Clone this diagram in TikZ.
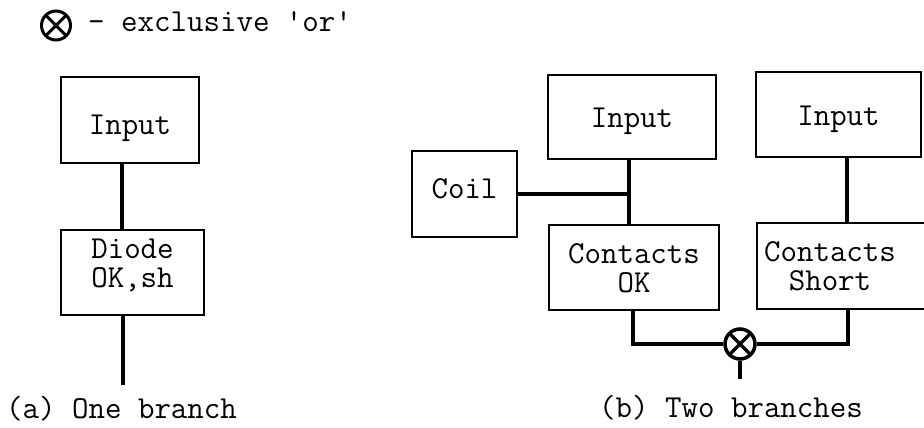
\documentclass[tikz,border=0pt]{standalone}
\usepackage{fontspec}
\usetikzlibrary{calc}
\tikzset{
  every node/.style={font=\ttfamily\fontsize{32}{29}\selectfont},
  blk/.style 2 args={draw, line width=2pt, inner sep=0pt, align=center,
    minimum width=#1, minimum height=#2},
  tb/.style 2 args={text height=#1, text depth=#2},
  wire/.style={line width=4.5pt},
  xorcross/.style={path picture={\draw
      (path picture bounding box.north west) -- (path picture bounding box.south east)
      (path picture bounding box.north east) -- (path picture bounding box.south west);}},
  xorbig/.style={circle, draw, line width=3.5pt, minimum size=30pt, inner sep=0pt, xorcross},
  lbl/.style={anchor=base west, inner sep=0pt}
}
\begin{document}
\begin{tikzpicture}[x=1pt,y=-1pt]
\useasboundingbox (0,0) rectangle (924,428);
\clip (0,0) rectangle (924,428);

% key: exclusive-or symbol and its meaning
\coordinate (key) at (56,25.5);
\draw[line width=3pt] (key) circle[radius=14.5pt]
  ($(key)+(-10.25,-10.25)$) -- ($(key)+(10.25,10.25)$)
  ($(key)+(-10.25,10.25)$) -- ($(key)+(10.25,-10.25)$);
\node[lbl] (keytext) at (88,32)
  {- exclusive \textquotesingle or\textquotesingle};

% (a) one branch
\node[blk={138pt}{86pt}, tb={31pt}{3pt}] (in1) at (130,120) {Input};
\node[blk={143pt}{85pt}, tb={33pt}{4pt}] (d1) at (132.5,272.5) {Diode\\OK,sh};
\coordinate (ax) at (122,0);
\coordinate (bx) at (123,0);
\coordinate (aout) at (123,385);
\draw[wire] (ax |- in1.south) -- (ax |- d1.north);
\draw[wire] (bx |- d1.south) -- (aout);
\node[lbl] (capa) at (6,418) {(a) One branch};

% (b) two branches
\node[blk={105pt}{86pt}, tb={11pt}{3pt}] (coil) at (464.5,194) {Coil};
\node[blk={168pt}{84pt}, tb={23pt}{3pt}] (in2) at (632,117) {Input};
\node[blk={170pt}{85pt}, tb={53pt}{4pt}] (ok) at (634,267.5) {Contacts\\OK};
\node[blk={165pt}{85pt}, tb={24pt}{3pt}] (in3) at (838.5,114.5) {Input};
\node[inner sep=0pt, align=center, minimum width=146pt, minimum height=86pt,
  tb={52pt}{4pt}] (cs) at (830,266) {Contacts\\Short};
\draw[line width=2pt] ($(cs.north east)+(40,0)$) -- (cs.north west)
  -- (cs.south west) -- ($(cs.south east)+(40,0)$);

\coordinate (mx) at (629,0);
\coordinate (rx) at (847,0);
\coordinate (j) at (629,194);
\draw[wire] (mx |- in2.south) -- (mx |- ok.north);
\draw[wire] (coil.east) -- (j);
\draw[wire] (rx |- in3.south) -- (rx |- cs.north);

\node[xorbig] (x) at (740,344) {};
\coordinate (okx) at (633,0);
\coordinate (csx) at (848,0);
\coordinate (bout) at (740,379);
\draw[wire] (okx |- ok.south) -- (okx |- x.west) -- (x.west);
\draw[wire] (x.east) -- (csx |- x.east) -- (csx |- cs.south);
\draw[wire] (x.south) -- (bout);
\node[lbl] (capb) at (599,417) {(b) Two branches};
\end{tikzpicture}
\end{document}
